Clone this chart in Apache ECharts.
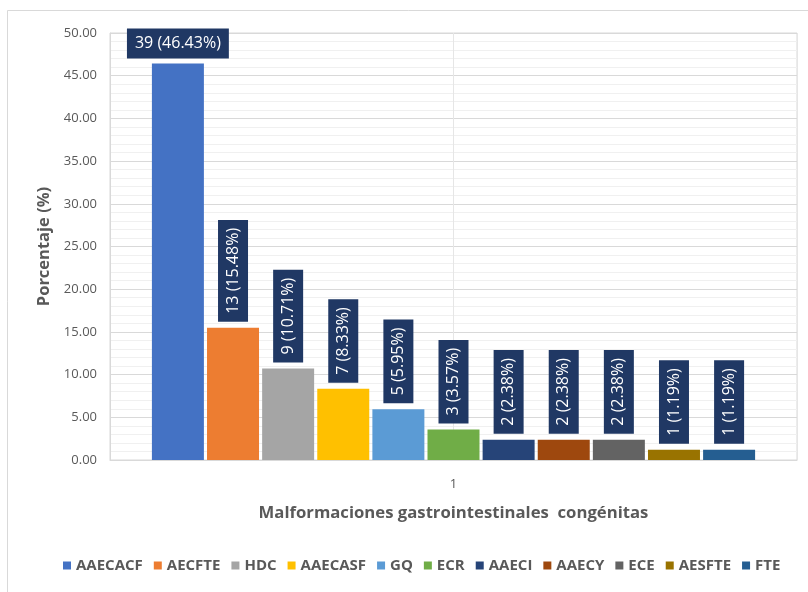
<!DOCTYPE html>
<html>
<head>
<meta charset="utf-8">
<script src="https://cdn.jsdelivr.net/npm/echarts@6/dist/echarts.min.js"></script>
<style>
  html, body { margin: 0; padding: 0; background: #ffffff; }
  #chart { width: 808px; height: 592px; }
</style>
</head>
<body>
<div id="chart"></div>
<script>
// Congenital gastrointestinal malformations: count and share of cases
const categories = ['1'];
const seriesNames = ['AAECACF', 'AECFTE', 'HDC', 'AAECASF', 'GQ', 'ECR', 'AAECI', 'AAECY', 'ECE', 'AESFTE', 'FTE'];
const counts = [39, 13, 9, 7, 5, 3, 2, 2, 2, 1, 1];
const percents = [46.43, 15.48, 10.71, 8.33, 5.95, 3.57, 2.38, 2.38, 2.38, 1.19, 1.19];
const colors = ['#4472C4', '#ED7D31', '#A5A5A5', '#FFC000', '#5B9BD5', '#70AD47', '#264478', '#9E480E', '#636363', '#997300', '#255E91'];
const yTicks = { min: 0, max: 50, interval: 5 };

const FONT = '"Open Sans", "Noto Sans", sans-serif';

const series = seriesNames.map((name, i) => ({
  name: name,
  type: 'bar',
  xAxisIndex: 0,
  yAxisIndex: 0,
  barWidth: 52,
  barGap: '6%',
  itemStyle: { color: colors[i] },
  data: [percents[i]],
  label: {
    show: true,
    position: 'top',
    distance: i === 0 ? 5 : 6,
    rotate: i === 0 ? 0 : 90,
    align: i === 0 ? 'center' : 'left',
    verticalAlign: i === 0 ? 'bottom' : 'middle',
    formatter: () => counts[i] + ' (' + percents[i].toFixed(2) + '%)',
    color: '#ffffff',
    fontFamily: FONT,
    fontSize: 16,
    lineHeight: 18,
    backgroundColor: '#203864',
    padding: [6, 8, 6, 8]
  }
}));

const chart = echarts.init(document.getElementById('chart'), null, { renderer: 'canvas' });
chart.setOption({
  backgroundColor: '#ffffff',
  animation: false,
  textStyle: { fontFamily: FONT },
  graphic: [{
    type: 'rect',
    shape: { x: 7.5, y: 10.5, width: 830, height: 600 },
    style: { fill: 'none', stroke: '#d9d9d9', lineWidth: 1 },
    silent: true
  }],
  grid: {
    left: 110, right: 11, top: 33, bottom: 132,
    show: true, borderColor: '#d9d9d9', borderWidth: 1, backgroundColor: 'transparent'
  },
  legend: {
    bottom: 14,
    left: 58,
    icon: 'rect',
    itemWidth: 8,
    itemHeight: 8,
    itemGap: 11,
    textStyle: { color: '#595959', fontWeight: 'bold', fontSize: 15, fontFamily: FONT },
    data: seriesNames
  },
  xAxis: [{
    type: 'category',
    data: categories,
    axisLine: { show: true, lineStyle: { color: '#d9d9d9' } },
    axisTick: { show: false },
    axisLabel: { color: '#595959', fontSize: 13, margin: 18 },
    splitLine: { show: false },
    name: 'Malformaciones gastrointestinales  congénitas',
    nameLocation: 'middle',
    nameGap: 45,
    nameTextStyle: { color: '#595959', fontSize: 16.7, fontWeight: 'bold' }
  }, {
    // center vertical gridline across the single category
    type: 'value',
    min: 0, max: 2, interval: 1,
    position: 'bottom',
    axisLine: { show: false },
    axisTick: { show: false },
    axisLabel: { show: false },
    splitLine: { show: true, lineStyle: { color: '#e6e6e6' } }
  }],
  yAxis: {
    type: 'value',
    min: yTicks.min,
    max: yTicks.max,
    interval: yTicks.interval,
    axisLine: { show: true, lineStyle: { color: '#d9d9d9' } },
    axisTick: { show: false },
    axisLabel: {
      color: '#595959', fontSize: 13, margin: 13,
      formatter: v => v.toFixed(2)
    },
    splitLine: { show: true, lineStyle: { color: '#d9d9d9' } },
    minorTick: { show: false, splitNumber: 5 },
    minorSplitLine: { show: true, lineStyle: { color: '#f0f0f0' } },
    name: 'Porcentaje (%)',
    nameLocation: 'middle',
    nameGap: 55,
    nameTextStyle: { color: '#595959', fontSize: 16.5, fontWeight: 'bold' }
  },
  series: series
});
</script>
</body>
</html>
